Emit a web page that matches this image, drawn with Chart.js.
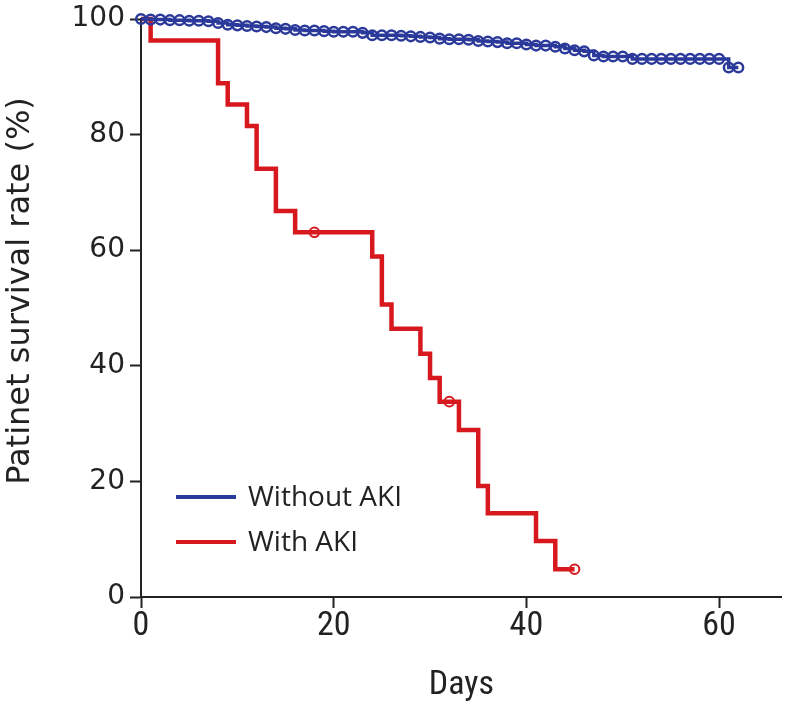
<!DOCTYPE html>
<html>
<head>
<meta charset="utf-8">
<script src="https://cdn.jsdelivr.net/npm/chart.js@4.4.1/dist/chart.umd.min.js"></script>
<style>
    html, body { margin: 0; padding: 0; background: #fff; overflow: hidden; }
    canvas { display: block; }
</style>
</head>
<body>
<canvas id="km-chart" width="789" height="704" style="width:789px;height:704px"></canvas>
<script>
// Kaplan-Meier curves, values (survival in %)
const withAkiDays = [0, 1, 8, 9, 11, 12, 14, 16, 24, 25, 26, 29, 30, 31, 33, 35, 36, 41, 43, 45];
const withAkiSurv = [100, 96.3, 88.9, 85.2, 81.5, 74.1, 66.8, 63.1, 58.9, 50.6, 46.4, 42.1, 37.9, 33.8, 28.9, 19.2, 14.5, 9.7, 4.8, 4.8];
const withAkiCensorDays = [18, 32, 45];
const withAkiCensorSurv = [63.1, 33.8, 4.8];

const withoutAkiDays = [0, 1, 2, 3, 4, 5, 6, 7, 8, 9, 10, 11, 12, 13, 14, 15, 16, 17, 18, 19, 20,
    21, 22, 23, 24, 25, 26, 27, 28, 29, 30, 31, 32, 33, 34, 35, 36, 37, 38, 39, 40,
    41, 42, 43, 44, 45, 46, 47, 48, 49, 50, 51, 52, 53, 54, 55, 56, 57, 58, 59, 60, 61, 62];
const withoutAkiSurv = [100, 99.9, 99.9, 99.8, 99.8, 99.7, 99.7, 99.6, 99.3, 99.0, 98.9, 98.8, 98.7, 98.6, 98.4, 98.3, 98.1, 98.0, 98.0, 97.9, 97.8,
    97.8, 97.8, 97.6, 97.2, 97.2, 97.2, 97.1, 97.0, 96.9, 96.8, 96.6, 96.5, 96.5, 96.4, 96.2, 96.1, 96.0, 95.8, 95.8, 95.6,
    95.4, 95.4, 95.2, 94.9, 94.6, 94.4, 93.7, 93.5, 93.5, 93.5, 93.1, 93.1, 93.1, 93.1, 93.1, 93.1, 93.1, 93.1, 93.1, 93.1, 91.6, 91.6];

const seriesLabels = ['Without AKI', 'With AKI'];
const yTitle = 'Patinet survival rate (%)';
const xTickValues = [0, 20, 40, 60];
const yTickValues = [0, 20, 40, 60, 80, 100];

const BLUE = '#2b3a9a';
const RED = '#d7191f';
const AXIS = '#222222';
const NARROW = '"Liberation Sans Narrow", "Roboto Condensed", Roboto, sans-serif';

const toPoints = (xs, ys) => xs.map((x, i) => ({ x, y: ys[i] }));

// Legend drawn inside the plot area, lower left
const insetLegend = {
    id: 'insetLegend',
    afterDraw(chart, args, opts) {
        const { ctx } = chart;
        const items = chart.data.datasets.filter(d => d.inLegend);
        ctx.save();
        ctx.textBaseline = 'middle';
        ctx.textAlign = 'left';
        ctx.font = opts.font;
        items.forEach((ds, i) => {
            const y = opts.top + i * opts.rowGap;
            ctx.strokeStyle = ds.borderColor;
            ctx.lineWidth = 4;
            ctx.beginPath();
            ctx.moveTo(opts.left, y);
            ctx.lineTo(opts.left + opts.lineLength, y);
            ctx.stroke();
            ctx.fillStyle = '#222';
            ctx.fillText(ds.label, opts.left + opts.lineLength + opts.gap, y + 1);
        });
        ctx.restore();
    },
};

// Y axis title, placed a little above the axis middle like the original
const sideTitle = {
    id: 'sideTitle',
    afterDraw(chart, args, opts) {
        const { ctx } = chart;
        ctx.save();
        ctx.translate(opts.x, opts.y);
        ctx.rotate(-Math.PI / 2);
        ctx.textAlign = 'center';
        ctx.textBaseline = 'middle';
        ctx.font = opts.font;
        ctx.fillStyle = AXIS;
        ctx.fillText(opts.text, 0, 0);
        ctx.restore();
    },
};

const canvas = document.getElementById('km-chart');

new Chart(canvas, {
    type: 'line',
    data: {
        datasets: [
            {
                label: seriesLabels[0],
                inLegend: true,
                data: toPoints(withoutAkiDays, withoutAkiSurv),
                borderColor: BLUE,
                borderWidth: 3.5,
                stepped: 'before',
                pointRadius: 0,
                clip: false,
                order: 2,
            },
            {
                label: seriesLabels[0] + ' censored',
                type: 'scatter',
                data: toPoints(withoutAkiDays, withoutAkiSurv),
                showLine: false,
                pointStyle: 'circle',
                pointRadius: 4.8,
                pointBorderWidth: 2.5,
                pointBorderColor: BLUE,
                pointBackgroundColor: 'rgba(0,0,0,0)',
                clip: false,
                order: 1,
            },
            {
                label: seriesLabels[1],
                inLegend: true,
                data: toPoints(withAkiDays, withAkiSurv),
                borderColor: RED,
                borderWidth: 4.5,
                stepped: 'before',
                pointRadius: 0,
                clip: false,
                order: 4,
            },
            {
                label: seriesLabels[1] + ' censored',
                type: 'scatter',
                data: toPoints(withAkiCensorDays, withAkiCensorSurv),
                showLine: false,
                pointStyle: 'circle',
                pointRadius: 4.8,
                pointBorderWidth: 2,
                pointBorderColor: RED,
                pointBackgroundColor: 'rgba(0,0,0,0)',
                clip: false,
                order: 3,
            },
        ],
    },
    options: {
        responsive: false,
        animation: false,
        events: [],
        layout: {
            padding: { top: 18, right: 4, left: 0, bottom: 0 },
        },
        plugins: {
            legend: { display: false },
            tooltip: { enabled: false },
            insetLegend: {
                left: 176,
                top: 497,
                rowGap: 45,
                lineLength: 60,
                gap: 12,
                font: '28px "Open Sans", "Noto Sans", sans-serif',
            },
            sideTitle: {
                text: yTitle,
                x: 21,
                y: 291,
                font: '32px "DejaVu Sans", sans-serif',
            },
        },
        scales: {
            x: {
                type: 'linear',
                min: 0,
                max: 66.5,
                afterFit: (scale) => {
                    scale.height = 107;
                    scale.paddingLeft = 0;
                    scale.paddingRight = 0;
                },
                afterBuildTicks: (scale) => { scale.ticks = xTickValues.map(v => ({ value: v })); },
                border: { display: true, color: AXIS, width: 2 },
                grid: {
                    display: true,
                    drawOnChartArea: false,
                    drawTicks: true,
                    tickLength: 11,
                    tickWidth: 2,
                    tickColor: AXIS,
                },
                ticks: {
                    color: AXIS,
                    padding: 0,
                    maxRotation: 0,
                    font: { family: NARROW, size: 34, lineHeight: 1.1 },
                },
                title: {
                    display: true,
                    text: 'Days',
                    color: AXIS,
                    padding: { top: 0, bottom: 0 },
                    font: { family: NARROW, size: 34, lineHeight: 1.1 },
                },
            },
            y: {
                type: 'linear',
                min: 0,
                max: 100,
                afterFit: (scale) => { scale.width = 141; },
                afterBuildTicks: (scale) => { scale.ticks = yTickValues.map(v => ({ value: v })); },
                border: { display: true, color: AXIS, width: 2 },
                grid: {
                    display: true,
                    drawOnChartArea: false,
                    drawTicks: true,
                    tickLength: 11,
                    tickWidth: 2,
                    tickColor: AXIS,
                },
                ticks: {
                    color: AXIS,
                    padding: 5,
                    font: { family: '"DejaVu Sans", sans-serif', size: 28, lineHeight: 1.0 },
                },
                title: { display: false },
            },
        },
    },
    plugins: [insetLegend, sideTitle],
});
</script>
</body>
</html>
